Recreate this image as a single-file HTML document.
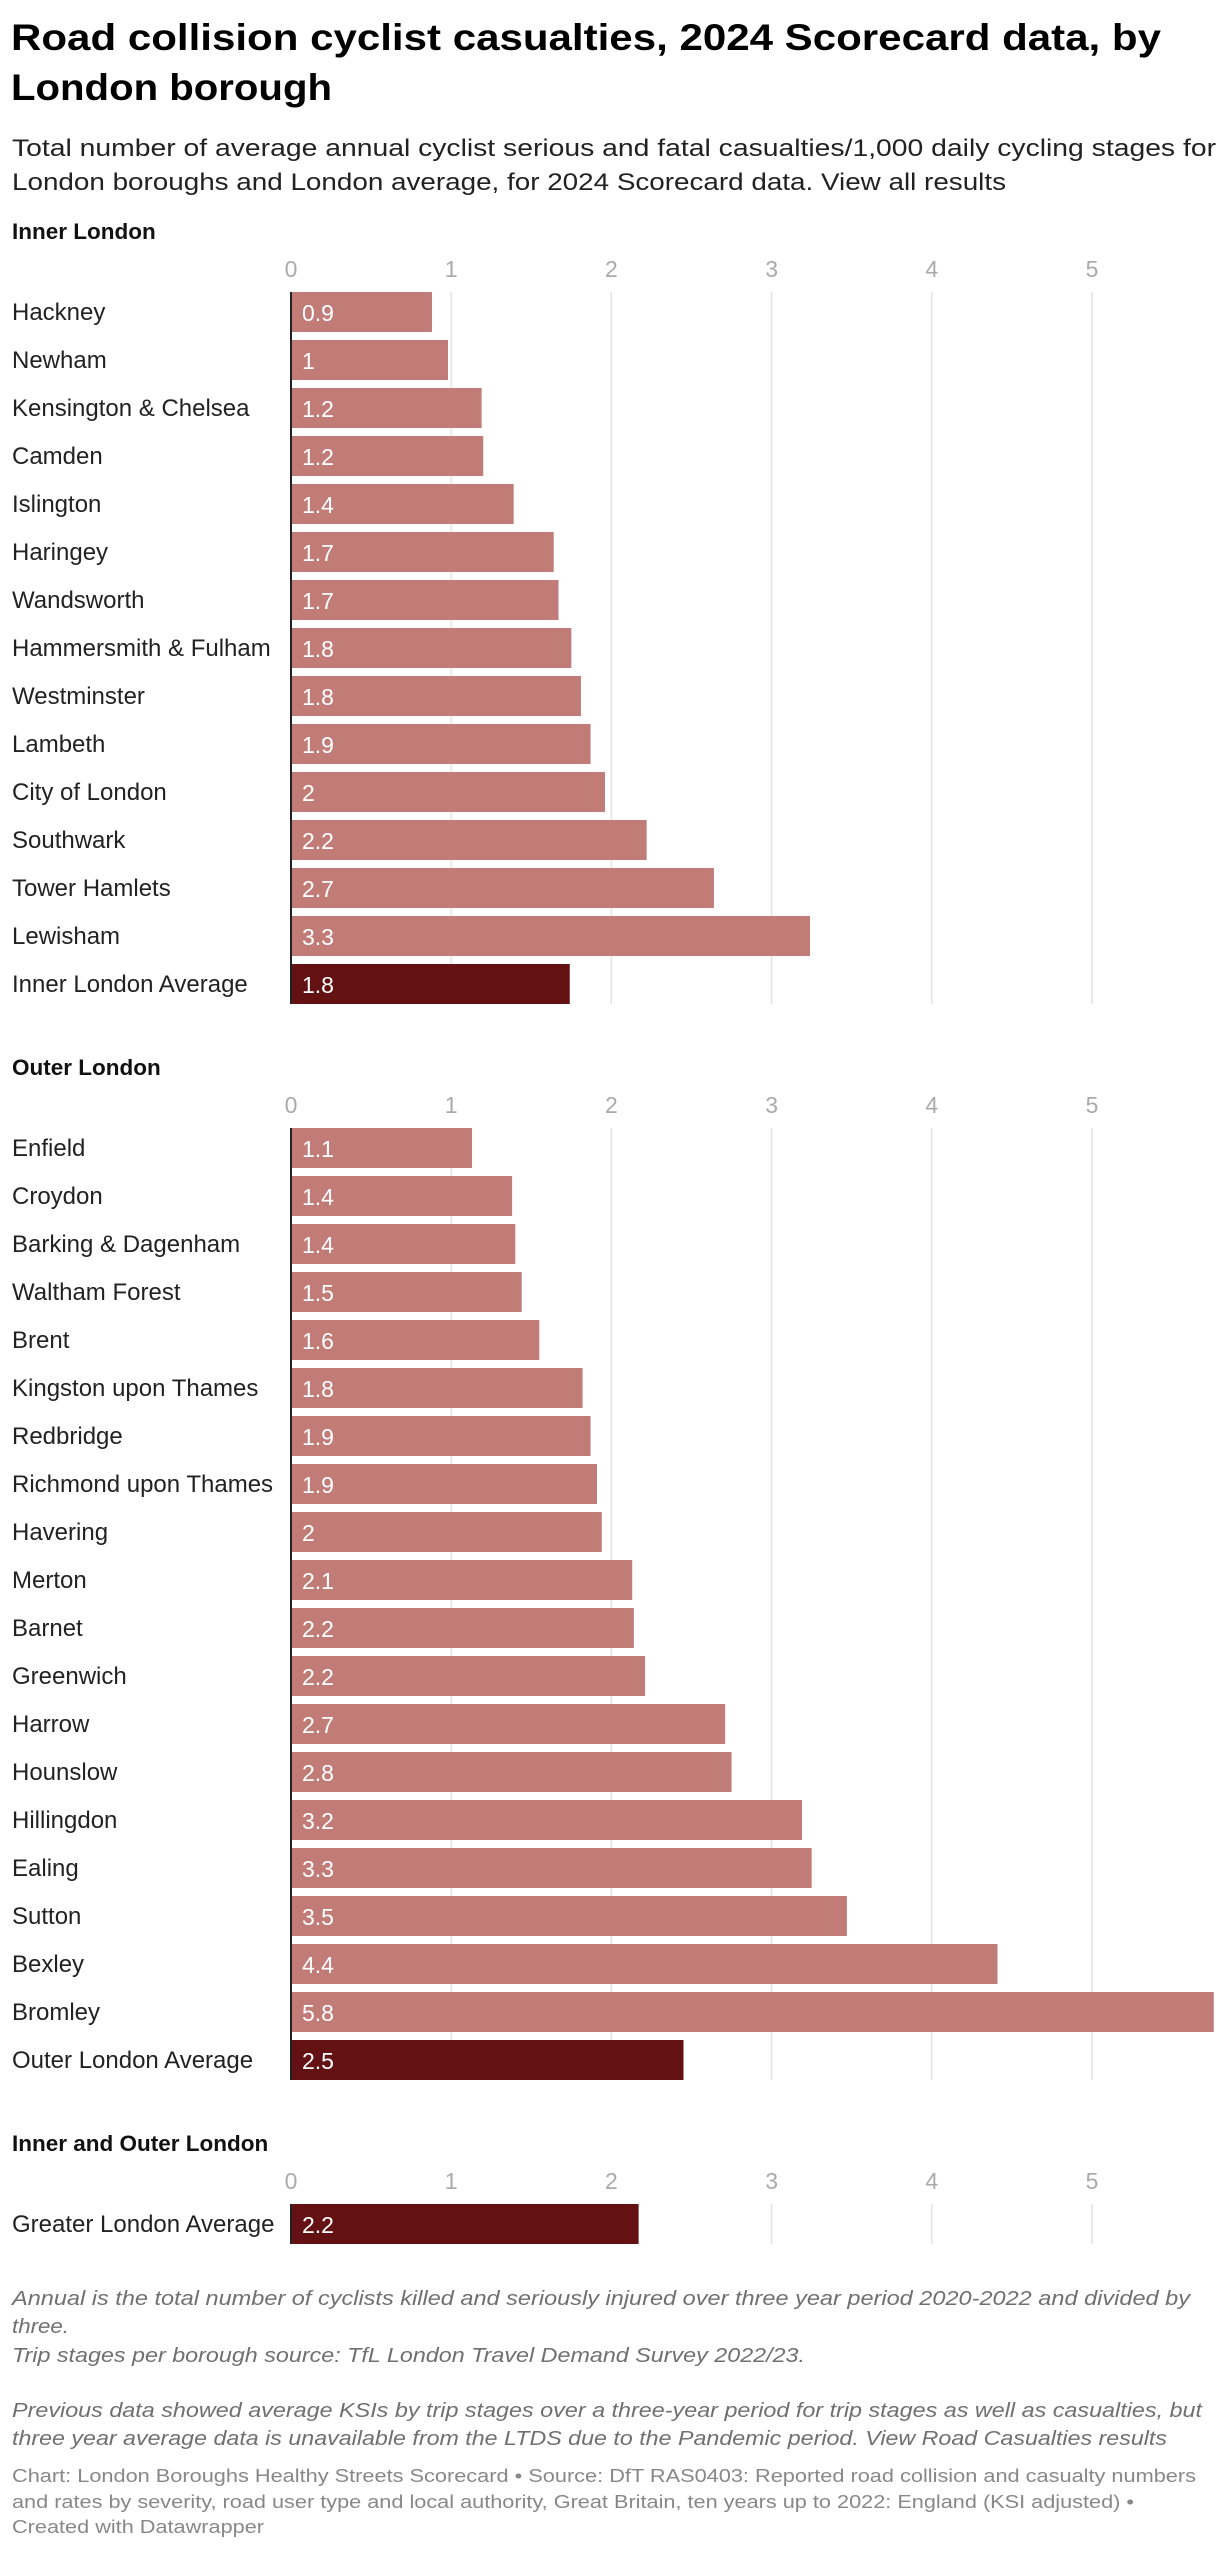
<!DOCTYPE html>
<html><head><meta charset="utf-8">
<style>
html,body{margin:0;padding:0;background:#fff;}
svg{display:block;font-family:"Liberation Sans",Arial,sans-serif;}
</style></head>
<body>
<svg id="chart" width="1220" height="2550" viewBox="0 0 1220 2550" xmlns="http://www.w3.org/2000/svg">
<text x="11" y="50" font-size="37" font-weight="bold" fill="#000" textLength="1150" lengthAdjust="spacingAndGlyphs">Road collision cyclist casualties, 2024 Scorecard data, by</text>
<text x="11" y="100" font-size="37" font-weight="bold" fill="#000" textLength="321" lengthAdjust="spacingAndGlyphs">London borough</text>
<text x="12" y="156" font-size="24" fill="#222" textLength="1204" lengthAdjust="spacingAndGlyphs">Total number of average annual cyclist serious and fatal casualties/1,000 daily cycling stages for</text>
<text x="12" y="190" font-size="24" fill="#222" textLength="994" lengthAdjust="spacingAndGlyphs">London boroughs and London average, for 2024 Scorecard data. View all results</text>
<g id="panels"></g>
<g font-size="20" font-style="italic" fill="#707070">
<text x="12" y="2305" textLength="1178" lengthAdjust="spacingAndGlyphs">Annual is the total number of cyclists killed and seriously injured over three year period 2020-2022 and divided by</text>
<text x="12" y="2333" textLength="57" lengthAdjust="spacingAndGlyphs">three.</text>
<text x="12" y="2362" textLength="793" lengthAdjust="spacingAndGlyphs">Trip stages per borough source: TfL London Travel Demand Survey 2022/23.</text>
<text x="12" y="2417" textLength="1190" lengthAdjust="spacingAndGlyphs">Previous data showed average KSIs by trip stages over a three-year period for trip stages as well as casualties, but</text>
<text x="12" y="2445" textLength="1155" lengthAdjust="spacingAndGlyphs">three year average data is unavailable from the LTDS due to the Pandemic period. View Road Casualties results</text>
</g>
<g font-size="18" fill="#888">
<text x="12" y="2482" textLength="1184" lengthAdjust="spacingAndGlyphs">Chart: London Boroughs Healthy Streets Scorecard • Source: DfT RAS0403: Reported road collision and casualty numbers</text>
<text x="12" y="2508" textLength="1122" lengthAdjust="spacingAndGlyphs">and rates by severity, road user type and local authority, Great Britain, ten years up to 2022: England (KSI adjusted) •</text>
<text x="12" y="2533" textLength="252" lengthAdjust="spacingAndGlyphs">Created with Datawrapper</text>
</g>
</svg>
<script>
const ticks = [0, 1, 2, 3, 4, 5];
const innerNames = ["Hackney","Newham","Kensington & Chelsea","Camden","Islington","Haringey","Wandsworth","Hammersmith & Fulham","Westminster","Lambeth","City of London","Southwark","Tower Hamlets","Lewisham","Inner London Average"];
const innerValues = [0.88,0.98,1.19,1.2,1.39,1.64,1.67,1.75,1.81,1.87,1.96,2.22,2.64,3.24,1.74];
const innerLabels = ["0.9","1","1.2","1.2","1.4","1.7","1.7","1.8","1.8","1.9","2","2.2","2.7","3.3","1.8"];
const outerNames = ["Enfield","Croydon","Barking & Dagenham","Waltham Forest","Brent","Kingston upon Thames","Redbridge","Richmond upon Thames","Havering","Merton","Barnet","Greenwich","Harrow","Hounslow","Hillingdon","Ealing","Sutton","Bexley","Bromley","Outer London Average"];
const outerValues = [1.13,1.38,1.4,1.44,1.55,1.82,1.87,1.91,1.94,2.13,2.14,2.21,2.71,2.75,3.19,3.25,3.47,4.41,5.76,2.45];
const outerLabels = ["1.1","1.4","1.4","1.5","1.6","1.8","1.9","1.9","2","2.1","2.2","2.2","2.7","2.8","3.2","3.3","3.5","4.4","5.8","2.5"];
const greaterNames = ["Greater London Average"];
const greaterValues = [2.17];
const greaterLabels = ["2.2"];

const NS = "http://www.w3.org/2000/svg";
const x0 = 291, unit = 160.2, pitch = 48, barH = 40;
const xScale = v => x0 + v * unit;
const root = document.getElementById('panels');
function mk(tag, attrs, parent){ const e=document.createElementNS(NS,tag); for(const k in attrs) e.setAttribute(k,attrs[k]); parent.appendChild(e); return e; }

function panel(title, headerY, names, values, labels, avgIdx, key){
  const g = mk('g',{},root);
  
  
  const h = mk('text',{x:12,y:headerY,'font-size':22.5,'font-weight':'bold',fill:'#111'},g);
  
  
  h.textContent = title;
  const top = headerY + 53, bottom = top + names.length * pitch - (pitch - barH);
  ticks.forEach(t => {
    const tx = mk('text',{x:xScale(t),y:headerY+38,'font-size':23,fill:'#aaa','text-anchor':'middle'},g);
    
    
    tx.textContent = t;
    if (t > 0) {
      const gl = mk('line',{x1:xScale(t),x2:xScale(t),y1:top,y2:bottom,stroke:'#e3e3e3','stroke-width':1.5},g);
      
      
    }
  });
  names.forEach((n,i) => {
    const y = top + i * pitch;
    const lab = mk('text',{x:12,y:y+28,'font-size':24,fill:'#222'},g);
    
    
    lab.textContent = n;
    const w = Math.min(xScale(values[i]), 1220) - x0;
    const r = mk('rect',{x:x0,y:y,width:w,height:barH,fill: i===avgIdx ? '#631113' : '#c17c78'},g);
    
    
    const vl = mk('text',{x:x0+11,y:y+29,'font-size':23,fill:'#fff'},g);
    
    
    vl.textContent = labels[i];
  });
  const ax = mk('line',{x1:x0,x2:x0,y1:top,y2:bottom,stroke:'#222','stroke-width':2},g);
  
  
}
panel('Inner London', 239, innerNames, innerValues, innerLabels, innerNames.length-1, 'inner-london');
panel('Outer London', 1075, outerNames, outerValues, outerLabels, outerNames.length-1, 'outer-london');
panel('Inner and Outer London', 2151, greaterNames, greaterValues, greaterLabels, 0, 'greater-london');
</script>
</body></html>
